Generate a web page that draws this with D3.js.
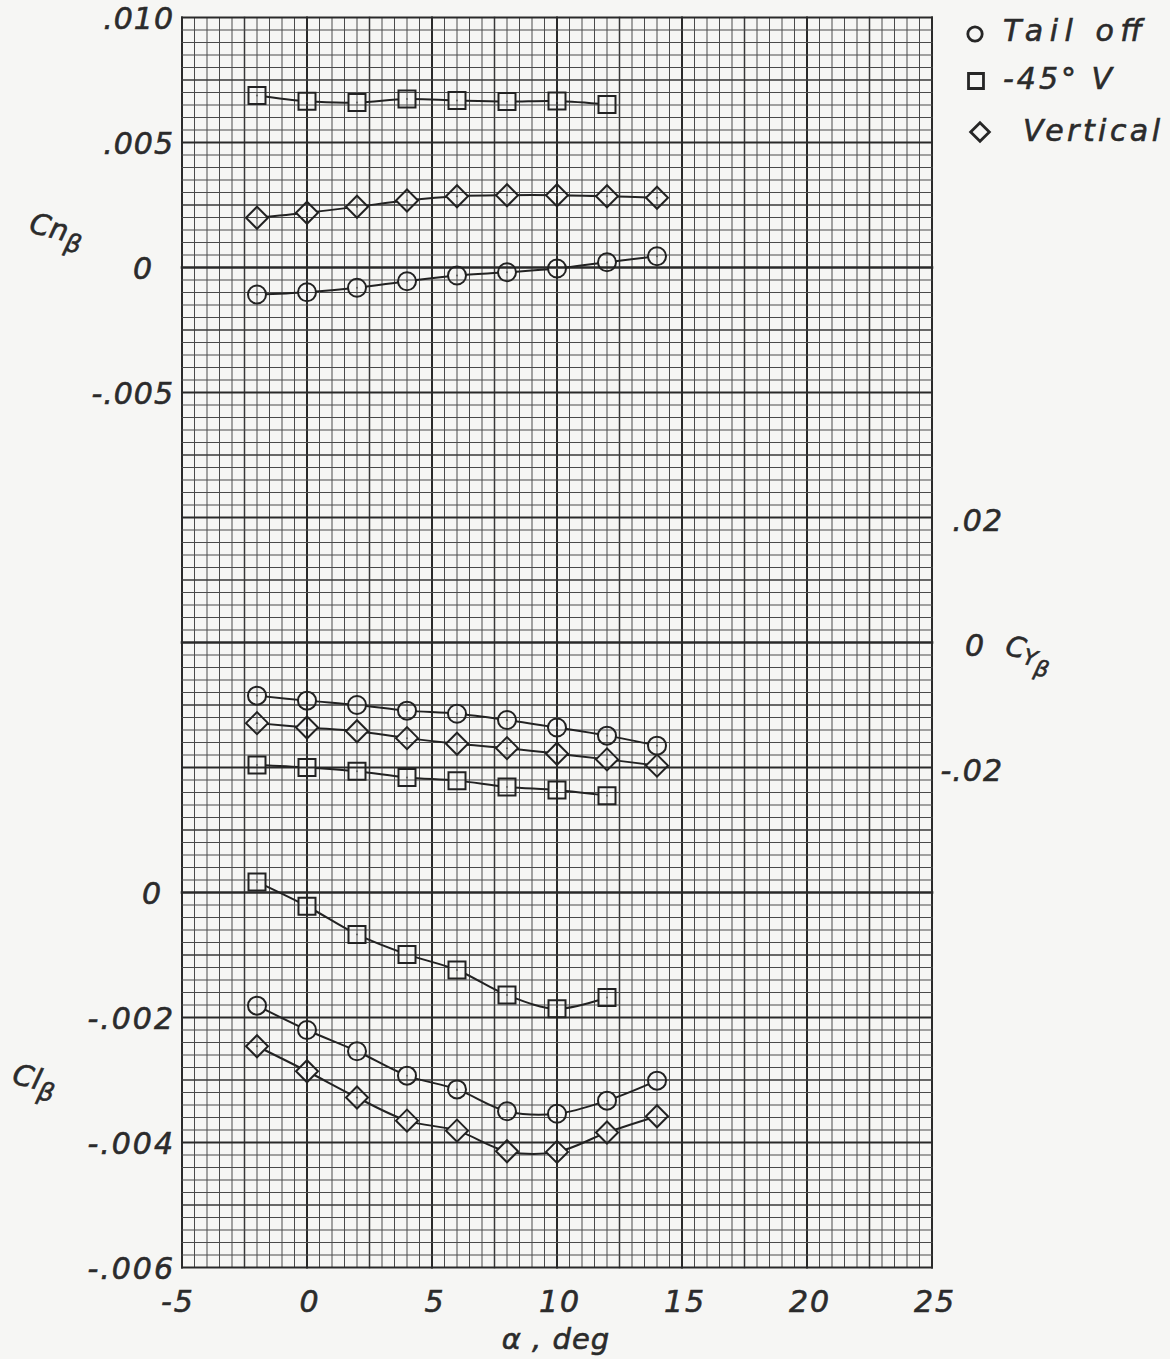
<!DOCTYPE html>
<html>
<head>
<meta charset="utf-8">
<script src="https://cdn.jsdelivr.net/npm/d3@7"></script>
<style>
  html, body { margin: 0; padding: 0; background: #f6f6f4; }
  svg { display: block; }
  text { font-family: "DejaVu Sans", sans-serif; font-style: italic; fill: #2b2b2b;
         stroke: #2b2b2b; stroke-width: 0.6px; }
</style>
</head>
<body>
<svg id="chart" width="1170" height="1359"></svg>
<script>
// Angle of attack, deg
const alpha = [-2, 0, 2, 4, 6, 8, 10, 12, 14];
const alphaV45 = [-2, 0, 2, 4, 6, 8, 10, 12];

// Directional stability derivative Cn_beta
const cnTailOff  = [-0.00108, -0.00099, -0.00081, -0.00055, -0.00032, -0.00019, -0.00004, 0.00021, 0.00045];
const cnV45      = [0.00688, 0.00665, 0.00660, 0.00674, 0.00668, 0.00664, 0.00666, 0.00652];
const cnVertical = [0.00199, 0.00219, 0.00243, 0.00268, 0.00285, 0.00289, 0.00289, 0.00285, 0.00279];

// Side-force derivative CY_beta
const cyTailOff  = [-0.0085, -0.0093, -0.0100, -0.0109, -0.0114, -0.0124, -0.0136, -0.0149, -0.0165];
const cyV45      = [-0.0196, -0.0200, -0.0206, -0.0216, -0.0221, -0.0231, -0.0236, -0.0245];
const cyVertical = [-0.0129, -0.0136, -0.0142, -0.0153, -0.0162, -0.0169, -0.0178, -0.0187, -0.0197];

// Effective dihedral derivative Cl_beta
const clTailOff  = [-0.00181, -0.00220, -0.00254, -0.00293, -0.00315, -0.00350, -0.00354, -0.00333, -0.00301];
const clV45      = [0.00017, -0.00022, -0.00067, -0.00099, -0.00124, -0.00164, -0.00186, -0.00168];
const clVertical = [-0.00246, -0.00286, -0.00328, -0.00365, -0.00381, -0.00414, -0.00415, -0.00384, -0.00358];

// Axis ticks and labels
const alphaTicks = [-5, 0, 5, 10, 15, 20, 25];
const cnTicks  = [0.010, 0.005, 0, -0.005];
const cnLabels = [".010", ".005", "0", "-.005"];
const cyTicks  = [0.02, 0, -0.02];
const cyLabels = [".02", "0", "-.02"];
const clTicks  = [0, -0.002, -0.004, -0.006];
const clLabels = ["0", "-.002", "-.004", "-.006"];

const legendNames = ["Tail off", "-45° V", "Vertical"];

// ---- layout ----
const padL = 182, padR = 932, padT = 17.5, padB = 1267.5;
const svg = d3.select("#chart");

const x = d3.scaleLinear([-5, 25], [padL, padR]);
const yCn = d3.scaleLinear([-0.005, 0.010], [392.5, padT]);
const yCy = d3.scaleLinear([-0.02, 0.02], [767.5, 517.5]);
const yCl = d3.scaleLinear([-0.006, 0], [padB, 892.5]);
// cross-section paper: 60 columns x 100 rows
const col = d3.scaleLinear([0, 60], [padL, padR]);
const row = d3.scaleLinear([0, 100], [padT, padB]);
const zeroRows = [yCn(0), yCy(0), yCl(0)];

// ---- graph paper ----
const grid = svg.append("g").attr("stroke-linecap", "square");
function weight(i) { return i % 10 === 0 ? 2 : (i % 5 === 0 ? 1.5 : 1); }
function shade(i) { return i % 10 === 0 ? "#2a2a2a" : (i % 5 === 0 ? "#383838" : "#4a4a4a"); }

grid.selectAll("line.v").data(d3.range(0, 61)).join("line")
  .attr("class", "v")
  .attr("x1", d => col(d)).attr("x2", d => col(d))
  .attr("y1", padT).attr("y2", padB)
  .attr("stroke", d => shade(d)).attr("stroke-width", d => weight(d));

grid.selectAll("line.h").data(d3.range(0, 101)).join("line")
  .attr("class", "h")
  .attr("y1", d => row(d)).attr("y2", d => row(d))
  .attr("x1", padL).attr("x2", padR)
  .attr("stroke", d => shade(d))
  .attr("stroke-width", d => zeroRows.some(z => Math.abs(z - row(d)) < 0.1) ? 2.6 : weight(d));

// ---- markers ----
const R = { circle: 9, square: 8.5, diamond: 11 };
function markerPath(shape, cx, cy, s) {
  const k = s || 1;
  if (shape === "circle") {
    const r = R.circle * k;
    return `M${cx - r},${cy}a${r},${r} 0 1,0 ${2 * r},0a${r},${r} 0 1,0 ${-2 * r},0Z`;
  }
  if (shape === "square") {
    const h = R.square * k;
    return `M${cx - h},${cy - h}h${2 * h}v${2 * h}h${-2 * h}Z`;
  }
  const d = R.diamond * k;
  return `M${cx},${cy - d}L${cx + d},${cy}L${cx},${cy + d}L${cx - d},${cy}Z`;
}

const series = [
  { xs: alpha,    ys: cnTailOff,  y: yCn, shape: "circle" },
  { xs: alphaV45, ys: cnV45,      y: yCn, shape: "square" },
  { xs: alpha,    ys: cnVertical, y: yCn, shape: "diamond" },
  { xs: alpha,    ys: cyTailOff,  y: yCy, shape: "circle" },
  { xs: alpha,    ys: cyVertical, y: yCy, shape: "diamond" },
  { xs: alphaV45, ys: cyV45,      y: yCy, shape: "square" },
  { xs: alphaV45, ys: clV45,      y: yCl, shape: "square" },
  { xs: alpha,    ys: clTailOff,  y: yCl, shape: "circle" },
  { xs: alpha,    ys: clVertical, y: yCl, shape: "diamond" }
];
series.forEach(s => { s.pts = s.xs.map((a, i) => [x(a), s.y(s.ys[i])]); });

// mask so that fairing lines stop at the symbol outlines
const defs = svg.append("defs");
const mask = defs.append("mask").attr("id", "symbolGaps").attr("maskUnits", "userSpaceOnUse")
  .attr("x", 0).attr("y", 0).attr("width", 1170).attr("height", 1359);
mask.append("rect").attr("width", 1170).attr("height", 1359).attr("fill", "white");
series.forEach(s => {
  mask.selectAll(null).data(s.pts).join("path")
    .attr("d", p => markerPath(s.shape, p[0], p[1]))
    .attr("fill", "black");
});

const line = d3.line().curve(d3.curveCatmullRom.alpha(0.5));
const curves = svg.append("g").attr("mask", "url(#symbolGaps)");
series.forEach(s => {
  curves.append("path").attr("d", line(s.pts))
    .attr("fill", "none").attr("stroke", "#222").attr("stroke-width", 2);
});

const symbols = svg.append("g");
series.forEach(s => {
  symbols.selectAll(null).data(s.pts).join("path")
    .attr("d", p => markerPath(s.shape, p[0], p[1]))
    .attr("fill", "none").attr("stroke", "#222").attr("stroke-width", 2);
  symbols.selectAll(null).data(s.pts).join("circle")
    .attr("cx", p => p[0]).attr("cy", p => p[1]).attr("r", 0.9).attr("fill", "#555");
});

// ---- axis labels ----
const labels = svg.append("g").attr("font-size", 30);

labels.selectAll(null).data(cnTicks).join("text")
  .attr("x", d => d === 0 ? 153 : 174).attr("y", d => yCn(d) + 11)
  .attr("text-anchor", "end").attr("letter-spacing", 1)
  .text((d, i) => cnLabels[i]);

labels.selectAll(null).data(clTicks).join("text")
  .attr("x", d => d === 0 ? 163 : 175).attr("y", d => yCl(d) + 11)
  .attr("text-anchor", "end").attr("letter-spacing", 2)
  .text((d, i) => clLabels[i]);

labels.selectAll(null).data(cyTicks).join("text")
  .attr("x", d => d === 0 ? 985 : 1003).attr("y", d => yCy(d) + 13)
  .attr("text-anchor", "end").attr("letter-spacing", 1)
  .text((d, i) => cyLabels[i]);

labels.selectAll(null).data(alphaTicks).join("text")
  .attr("x", d => x(d) + (d < 0 ? -4 : 3)).attr("y", 1312)
  .attr("text-anchor", "middle").attr("letter-spacing", 2)
  .text(d => d < 0 ? "-" + Math.abs(d) : String(d));

labels.append("text").attr("x", 556).attr("y", 1349).attr("text-anchor", "middle")
  .attr("font-size", 29).attr("letter-spacing", 1)
  .text("α , deg");

// coefficient names: [text, font size, baseline shift] parts, slightly tilted
function coefName(xp, yp, parts, rot) {
  const t = svg.append("text")
    .attr("transform", `translate(${xp},${yp}) rotate(${rot})`);
  parts.forEach(p => {
    t.append("tspan").attr("font-size", p[1]).attr("dy", p[2]).text(p[0]);
  });
  return t;
}
coefName(28, 232, [["Cn", 29, 0], ["β", 25, 9]], 14);
coefName(11, 1083, [["Cl", 29, 0], ["β", 25, 9]], 14);
coefName(1004, 654, [["C", 28, 0], ["Y", 22, 5], ["β", 22, 8]], 14);

// ---- legend ----
const legend = svg.append("g");
const legendShapes = ["circle", "square", "diamond"];
const legendMarks = [[975, 34, 0.8], [976, 81, 0.88], [980, 132, 0.85]];
const legendText = [[1003, 41, 139], [1003, 89, 109], [1023, 141, 137]];
legendShapes.forEach((shape, i) => {
  const m = legendMarks[i];
  legend.append("path").attr("d", markerPath(shape, m[0], m[1], m[2]))
    .attr("fill", "none").attr("stroke", "#262626").attr("stroke-width", 2.8);
  const t = legendText[i];
  legend.append("text").attr("x", t[0]).attr("y", t[1]).attr("font-size", 30)
    .attr("textLength", t[2]).attr("lengthAdjust", "spacing")
    .text(legendNames[i]);
});
</script>
</body>
</html>
